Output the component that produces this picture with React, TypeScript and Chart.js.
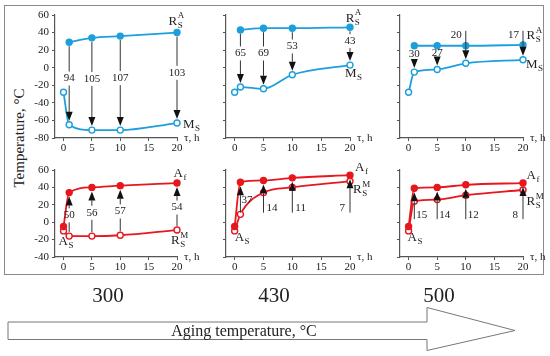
import React, { useEffect, useRef } from 'react';
import { Chart, registerables } from 'chart.js';
Chart.register(...registerables);

const SERIF = '"Liberation Serif", "Times New Roman", serif';
Chart.defaults.font.family = SERIF;

// ---- data ----
const tau = [0, 1, 5, 10, 20];
const tauArrow = [1, 5, 10, 20];
const xTicks = [0, 5, 10, 15, 20];
const yTicksTop = [-80, -60, -40, -20, 0, 20, 40, 60];
const yTicksBottom = [-40, -20, 0, 20, 40, 60];
const agingTemps = ['300', '430', '500'];

// top row: R_S^A (filled) at tauArrow, M_S (open) at tau
const rsA300 = [29, 34, 36, 40];
const ms300 = [-28, -65, -71, -71, -63];
const dA300 = [94, 105, 107, 103];
const rsA430 = [43, 45, 45, 46];
const ms430 = [-28, -22, -24, -8, 3];
const dA430 = [65, 69, 53, 43];
const rsA500 = [25, 25, 25, 26];
const ms500 = [-28, -5, -2, 5, 9];
const dA500 = [30, 27, 20, 17];

// bottom row: A_f (filled) and R_S^M (open) at tau
const af300 = [-5, 34, 40, 42, 45];
const rsM300 = [-10, -16, -16, -15, -9];
const dM300 = [50, 56, 57, 54];
const af430 = [-5, 46, 48, 51, 54];
const rsM430 = [-10, 9, 34, 40, 47];
const dM430 = [37, 14, 11, 7];
const af500 = [-5, 39, 40, 43, 45];
const rsM500 = [-10, 24, 26, 31, 37];
const dM500 = [15, 14, 12, 8];

const BLUE = '#1c9fdc';
const RED = '#e8161d';
const AXIS = '#555';
const INK = '#222';

const YW = 40, XH = 20, PT = 14, PR = 30;

type Series = { xs: number[]; ys: number[]; color: string; filled: boolean };
type Arrow = { x: number; y1: number; y2: number; text: string; mode: 'mid' | 'side'; dx: number; dy: number; align: CanvasTextAlign };
type Sym = { x: number; y: number; main: string; sub: string; sup?: string; dx: number; dy: number };
type Panel = {
  left: number; top: number; right: number; bottom: number;
  yMin: number; yMax: number; yTicks: number[]; showY: boolean;
  series: Series[]; arrows: Arrow[]; syms: Sym[];
};

const midArrows = (from: number[], to: number[], d: number[], dy: number): Arrow[] =>
  tauArrow.map((t, i) => ({ x: t, y1: from[i], y2: to[i], text: String(d[i]), mode: 'mid', dx: 0, dy, align: 'center' }));

const cols = [
  { left: 55, right: 177 },
  { left: 226, right: 350 },
  { left: 400, right: 523 },
];
const rows = [
  { top: 15, bottom: 138, yMin: -80, yMax: 60, yTicks: yTicksTop },
  { top: 170, bottom: 257, yMin: -40, yMax: 60, yTicks: yTicksBottom },
];

const panels: Panel[] = [
  {
    ...cols[0], ...rows[0], showY: true,
    series: [
      { xs: tauArrow, ys: rsA300, color: BLUE, filled: true },
      { xs: tau, ys: ms300, color: BLUE, filled: false },
    ],
    arrows: midArrows(rsA300, ms300.slice(1), dA300, -5),
    syms: [
      { x: 20, y: rsA300[3], main: 'R', sub: 'S', sup: 'A', dx: -8.4, dy: -7.6 },
      { x: 20, y: ms300[4], main: 'M', sub: 'S', dx: 6, dy: 5 },
    ],
  },
  {
    ...cols[1], ...rows[0], showY: false,
    series: [
      { xs: tauArrow, ys: rsA430, color: BLUE, filled: true },
      { xs: tau, ys: ms430, color: BLUE, filled: false },
    ],
    arrows: midArrows(rsA430, ms430.slice(1), dA430, -5),
    syms: [
      { x: 20, y: rsA430[3], main: 'R', sub: 'S', sup: 'A', dx: -4.3, dy: -5.6 },
      { x: 20, y: ms430[4], main: 'M', sub: 'S', dx: -5, dy: 12 },
    ],
  },
  {
    ...cols[2], ...rows[0], showY: false,
    series: [
      { xs: tauArrow, ys: rsA500, color: BLUE, filled: true },
      { xs: tau, ys: ms500, color: BLUE, filled: false },
    ],
    arrows: tauArrow.map((t, i): Arrow =>
      i < 2
        ? { x: t, y1: rsA500[i], y2: ms500[i + 1], text: String(dA500[i]), mode: 'mid', dx: 0, dy: -5, align: 'center' }
        : { x: t, y1: 42, y2: ms500[i + 1], text: String(dA500[i]), mode: 'side', dx: -4, dy: 4.5, align: 'right' }),
    syms: [
      { x: 20, y: rsA500[3], main: 'R', sub: 'S', sup: 'A', dx: 3.5, dy: -5.6 },
      { x: 20, y: ms500[4], main: 'M', sub: 'S', dx: 3, dy: 8.5 },
    ],
  },
  {
    ...cols[0], ...rows[1], showY: true,
    series: [
      { xs: tau, ys: af300, color: RED, filled: true },
      { xs: tau, ys: rsM300, color: RED, filled: false },
    ],
    arrows: midArrows(rsM300.slice(1), af300.slice(1), dM300, 1),
    syms: [
      { x: 20, y: af300[4], main: 'A', sub: 'f', dx: -3.4, dy: -6.4 },
      { x: 20, y: rsM300[4], main: 'R', sub: 'S', sup: 'M', dx: -6, dy: 14 },
      { x: 0, y: rsM300[0], main: 'A', sub: 'S', dx: -5, dy: 14 },
    ],
  },
  {
    ...cols[1], ...rows[1], showY: false,
    series: [
      { xs: tau, ys: af430, color: RED, filled: true },
      { xs: tau, ys: rsM430, color: RED, filled: false },
    ],
    arrows: tauArrow.map((t, i): Arrow => ({
      x: t, y1: 11, y2: af430[i + 1], text: String(dM430[i]), mode: 'side',
      dx: i === 0 ? 1 : i === 3 ? -5 : 3, dy: i === 0 ? -12.5 : -4.5, align: i === 3 ? 'right' : 'left',
    })),
    syms: [
      { x: 20, y: af430[4], main: 'A', sub: 'f', dx: 5, dy: -4.5 },
      { x: 20, y: rsM430[4], main: 'R', sub: 'S', sup: 'M', dx: 3, dy: 12 },
      { x: 0, y: rsM430[0], main: 'A', sub: 'S', dx: 0, dy: 10 },
    ],
  },
  {
    ...cols[2], ...rows[1], showY: false,
    series: [
      { xs: tau, ys: af500, color: RED, filled: true },
      { xs: tau, ys: rsM500, color: RED, filled: false },
    ],
    arrows: tauArrow.map((t, i): Arrow => ({
      x: t, y1: 3.5, y2: af500[i + 1], text: String(dM500[i]), mode: 'side',
      dx: i === 3 ? -5 : 2, dy: -4.3, align: i === 3 ? 'right' : 'left',
    })),
    syms: [
      { x: 20, y: af500[4], main: 'A', sub: 'f', dx: 3.5, dy: -4 },
      { x: 20, y: rsM500[4], main: 'R', sub: 'S', sup: 'M', dx: 3.5, dy: 15 },
      { x: 0, y: rsM500[0], main: 'A', sub: 'S', dx: -1, dy: 10 },
    ],
  },
];

function drawSym(ctx: CanvasRenderingContext2D, x: number, y: number, s: Sym) {
  ctx.fillStyle = INK;
  ctx.textAlign = 'left';
  ctx.textBaseline = 'alphabetic';
  ctx.font = `13px ${SERIF}`;
  ctx.fillText(s.main, x, y);
  const w = ctx.measureText(s.main).width;
  ctx.font = `9px ${SERIF}`;
  ctx.fillText(s.sub, x + w + 0.5, y + 3);
  if (s.sup) ctx.fillText(s.sup, x + w + 0.5, y - 6.5);
}

function makeNotes(p: Panel) {
  return {
    id: 'notes',
    afterDatasetsDraw(chart: any) {
      const ctx: CanvasRenderingContext2D = chart.ctx;
      const xs = chart.scales.x, ys = chart.scales.y;
      ctx.save();
      ctx.strokeStyle = '#333';
      ctx.fillStyle = '#111';
      ctx.lineWidth = 1;
      for (const a of p.arrows) {
        const px = xs.getPixelForValue(a.x);
        const p1 = ys.getPixelForValue(a.y1);
        const p2 = ys.getPixelForValue(a.y2);
        const dir = p2 > p1 ? 1 : -1;
        const tip = p2 - dir * 4;
        const headBase = tip - dir * 9;
        const segs: [number, number][] = [];
        let ly: number;
        if (a.mode === 'mid') {
          const start = p1 + dir * 4;
          ly = (p1 + p2) / 2 + a.dy;
          segs.push([start, ly - dir * 7]);
          segs.push([ly + dir * 7, headBase]);
        } else {
          ly = p1 + a.dy;
          segs.push([p1, headBase]);
        }
        ctx.beginPath();
        for (const [s, e] of segs) {
          if ((e - s) * dir > 0) { ctx.moveTo(px, s); ctx.lineTo(px, e); }
        }
        ctx.stroke();
        ctx.beginPath();
        ctx.moveTo(px, tip);
        ctx.lineTo(px - 3.5, headBase);
        ctx.lineTo(px + 3.5, headBase);
        ctx.closePath();
        ctx.fill();
        ctx.fillStyle = INK;
        ctx.font = `11px ${SERIF}`;
        ctx.textAlign = a.align;
        ctx.textBaseline = 'middle';
        ctx.fillText(a.text, px + a.dx, ly);
        ctx.fillStyle = '#111';
      }
      for (const s of p.syms) {
        drawSym(ctx, xs.getPixelForValue(s.x) + s.dx, ys.getPixelForValue(s.y) + s.dy, s);
      }
      ctx.fillStyle = INK;
      ctx.font = `11px ${SERIF}`;
      ctx.textAlign = 'left';
      ctx.textBaseline = 'middle';
      ctx.fillText('τ, h', chart.chartArea.right + 7, chart.chartArea.bottom);
      ctx.restore();
    },
  };
}

function PanelChart({ p }: { p: Panel }) {
  const ref = useRef<HTMLCanvasElement>(null);
  const w = p.right - p.left + YW + PR;
  const h = p.bottom - p.top + PT + XH;
  useEffect(() => {
    if (!ref.current) return;
    const chart = new Chart(ref.current, {
      type: 'line',
      data: {
        datasets: p.series.map((s) => ({
          data: s.xs.map((x, i) => ({ x, y: s.ys[i] })),
          borderColor: s.color,
          borderWidth: 1.8,
          backgroundColor: s.filled ? s.color : '#ffffff',
          pointBackgroundColor: s.filled ? s.color : '#ffffff',
          pointBorderColor: s.color,
          pointBorderWidth: 1.4,
          pointRadius: 3,
          cubicInterpolationMode: 'monotone',
          clip: false,
        })) as any,
      },
      options: {
        responsive: false,
        animation: false,
        devicePixelRatio: 1,
        layout: { padding: { left: 0, top: PT, right: PR, bottom: 0 } },
        plugins: { legend: { display: false }, tooltip: { enabled: false } },
        scales: {
          x: {
            type: 'linear', min: -1.5, max: 20,
            afterBuildTicks: (s: any) => { s.ticks = xTicks.map((v) => ({ value: v })); },
            afterFit: (s: any) => { s.height = XH; },
            grid: { drawOnChartArea: false, drawTicks: true, tickLength: 3, color: AXIS },
            border: { color: AXIS, width: 1.2 },
            ticks: { font: { size: 11, family: SERIF }, color: INK, padding: 1, maxRotation: 0, autoSkip: false },
          },
          y: {
            type: 'linear', min: p.yMin, max: p.yMax,
            afterBuildTicks: (s: any) => { s.ticks = p.yTicks.map((v) => ({ value: v })); },
            afterFit: (s: any) => { s.width = YW; },
            grid: { drawOnChartArea: false, drawTicks: true, tickLength: 3, color: AXIS },
            border: { color: AXIS, width: 1.2 },
            ticks: { display: p.showY, font: { size: 11, family: SERIF }, color: INK, padding: 3 },
          },
        },
      } as any,
      plugins: [makeNotes(p)],
    });
    return () => chart.destroy();
  }, [p]);
  return (
    <canvas
      ref={ref}
      width={w}
      height={h}
      style={{ position: 'absolute', left: p.left - YW, top: p.top - PT, width: w, height: h }}
    />
  );
}

const labelCenters = [108, 274, 439];

export default function App() {
  return (
    <div style={{ position: 'absolute', left: 0, top: 0, width: 550, height: 356, background: '#fff', fontFamily: SERIF, color: INK, overflow: 'hidden' }}>
      <div style={{ position: 'absolute', left: 4, top: 5, width: 540, height: 270, border: '1.5px solid #8a8a8a', boxSizing: 'border-box' }} />
      <div style={{ position: 'absolute', left: 19, top: 138, transform: 'translate(-50%, -50%) rotate(-90deg)', fontSize: 15, whiteSpace: 'nowrap', lineHeight: 1 }}>
        Temperature, °C
      </div>
      {panels.map((p, i) => <PanelChart key={i} p={p} />)}
      {agingTemps.map((t, i) => (
        <div key={t} style={{ position: 'absolute', left: labelCenters[i], top: 295, transform: 'translate(-50%, -50%)', fontSize: 21, lineHeight: 1 }}>{t}</div>
      ))}
      <svg width={550} height={356} style={{ position: 'absolute', left: 0, top: 0 }}>
        <polygon points="8,322 427,322 427,307.5 515,330.5 427,350.5 427,339.5 8,339.5" fill="#fff" stroke="#777" strokeWidth={1} />
      </svg>
      <div style={{ position: 'absolute', left: 244, top: 331, transform: 'translate(-50%, -50%)', fontSize: 16, lineHeight: 1, whiteSpace: 'nowrap' }}>
        Aging temperature, °C
      </div>
    </div>
  );
}
